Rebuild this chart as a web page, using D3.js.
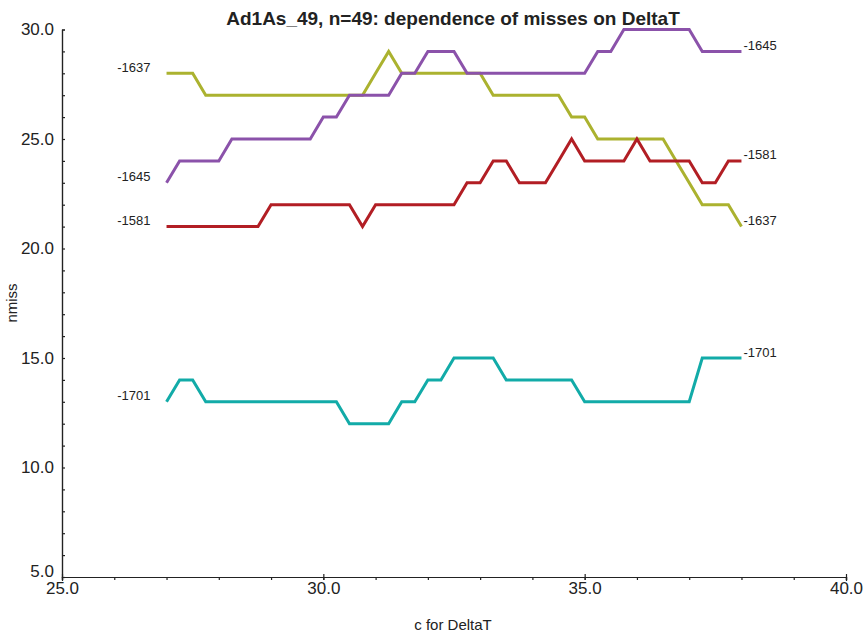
<!DOCTYPE html>
<html lang="en">
<head>
  <meta charset="utf-8">
  <script src="https://d3js.org/d3.v7.min.js"></script>
  <style>
    body, html {
      margin: 0;
      padding: 0;
      background: #fff;
    }
    svg text {
      font-family: "Liberation Sans", Arial, sans-serif;
      fill: #222;
    }
    .line {
      fill: none;
      stroke-width: 3px;
      stroke-linejoin: miter;
    }
  </style>
</head>
<body>
<svg id="chart" width="867" height="637"></svg>

<script>
  // x values: c for DeltaT, 27.0 .. 38.0 in steps of 0.25
  var cValues = [27, 27.25, 27.5, 27.75, 28, 28.25, 28.5, 28.75, 29, 29.25, 29.5, 29.75,
                 30, 30.25, 30.5, 30.75, 31, 31.25, 31.5, 31.75, 32, 32.25, 32.5, 32.75,
                 33, 33.25, 33.5, 33.75, 34, 34.25, 34.5, 34.75, 35, 35.25, 35.5, 35.75,
                 36, 36.25, 36.5, 36.75, 37, 37.25, 37.5, 37.75, 38];

  var seriesNames = ["-1637", "-1645", "-1581", "-1701"];
  var seriesColors = ["#abb22f", "#8b52aa", "#b21e24", "#12aba8"];

  var miss1637 = [28, 28, 28, 27, 27, 27, 27, 27, 27, 27, 27, 27, 27, 27, 27, 27, 28, 29, 28, 28,
                  28, 28, 28, 28, 28, 27, 27, 27, 27, 27, 27, 26, 26, 25, 25, 25, 25, 25, 25, 24,
                  23, 22, 22, 22, 21];
  var miss1645 = [23, 24, 24, 24, 24, 25, 25, 25, 25, 25, 25, 25, 26, 26, 27, 27, 27, 27, 28, 28,
                  29, 29, 29, 28, 28, 28, 28, 28, 28, 28, 28, 28, 28, 29, 29, 30, 30, 30, 30, 30,
                  30, 29, 29, 29, 29];
  var miss1581 = [21, 21, 21, 21, 21, 21, 21, 21, 22, 22, 22, 22, 22, 22, 22, 21, 22, 22, 22, 22,
                  22, 22, 22, 23, 23, 24, 24, 23, 23, 23, 24, 25, 24, 24, 24, 24, 25, 24, 24, 24,
                  24, 23, 23, 24, 24];
  var miss1701 = [13, 14, 14, 13, 13, 13, 13, 13, 13, 13, 13, 13, 13, 13, 12, 12, 12, 12, 13, 13,
                  14, 14, 15, 15, 15, 15, 14, 14, 14, 14, 14, 14, 13, 13, 13, 13, 13, 13, 13, 13,
                  13, 15, 15, 15, 15];

  var xTicks = [25, 30, 35, 40];
  var yTicks = [5, 10, 15, 20, 25, 30];

  var allSeries = [miss1637, miss1645, miss1581, miss1701];

  var svg = d3.select("#chart");

  var x = d3.scaleLinear().domain([25, 40]).range([62, 846]);
  var y = d3.scaleLinear().domain([5, 30]).range([577, 29.5]);

  // axes
  var xAxis = d3.axisBottom(x).tickValues(xTicks).tickFormat(d3.format(".1f")).tickSize(4).tickPadding(1);
  var xMinor = d3.axisBottom(x).tickValues(d3.range(25, 41, 1)).tickFormat("").tickSize(3);
  var yAxis = d3.axisLeft(y).tickValues(yTicks).tickFormat(d3.format(".1f")).tickSize(0).tickPadding(8);
  var yMinor = d3.axisLeft(y).tickValues(d3.range(5, 31, 1)).tickFormat("").tickSize(-3);

  function styleAxis(g) {
    g.select(".domain").attr("stroke", "#222").attr("stroke-width", 1.2);
    g.selectAll(".tick line").attr("stroke", "#222").attr("stroke-width", 1.2);
    g.selectAll(".tick text").style("font-size", "17px").attr("fill", "#222");
  }

  svg.append("g").attr("transform", "translate(0," + y(5) + ")").call(xMinor).call(styleAxis);
  svg.append("g").attr("transform", "translate(0," + y(5) + ")").call(xAxis).call(styleAxis)
    .selectAll(".tick line").attr("y1", -3).attr("y2", 3);
  svg.append("g").attr("transform", "translate(" + x(25) + ",0)").call(yMinor).call(styleAxis);
  var yg = svg.append("g").attr("transform", "translate(" + x(25) + ",0)").call(yAxis).call(styleAxis);
  // lift the bottom label so it sits above the 25.0 of the x axis
  yg.selectAll(".tick text").filter(function(d) { return d === 5; }).attr("y", -6);

  // lines
  var line = d3.line()
    .x(function(d, i) { return x(cValues[i]); })
    .y(function(d) { return y(d); });

  allSeries.forEach(function(s, k) {
    svg.append("path")
      .attr("class", "line")
      .attr("d", line(s))
      .attr("stroke", seriesColors[k]);

    // left label
    svg.append("text")
      .attr("x", x(cValues[0]) - 16)
      .attr("y", y(s[0]) - 6)
      .attr("dy", "0.35em")
      .attr("text-anchor", "end")
      .style("font-size", "13px")
      .text(seriesNames[k]);

    // right label
    var last = s.length - 1;
    svg.append("text")
      .attr("x", x(cValues[last]) + 2)
      .attr("y", y(s[last]) - 6)
      .attr("dy", "0.35em")
      .attr("text-anchor", "start")
      .style("font-size", "13px")
      .text(seriesNames[k]);
  });

  // title and axis labels
  svg.append("text")
    .attr("x", 453)
    .attr("y", 25)
    .attr("text-anchor", "middle")
    .style("font-size", "19px")
    .style("font-weight", "bold")
    .text("Ad1As_49, n=49: dependence of misses on DeltaT");

  svg.append("text")
    .attr("x", 453)
    .attr("y", 630)
    .attr("text-anchor", "middle")
    .style("font-size", "15px")
    .text("c for DeltaT");

  svg.append("text")
    .attr("transform", "translate(17,303) rotate(-90)")
    .attr("text-anchor", "middle")
    .style("font-size", "15px")
    .text("nmiss");
</script>
</body>
</html>
